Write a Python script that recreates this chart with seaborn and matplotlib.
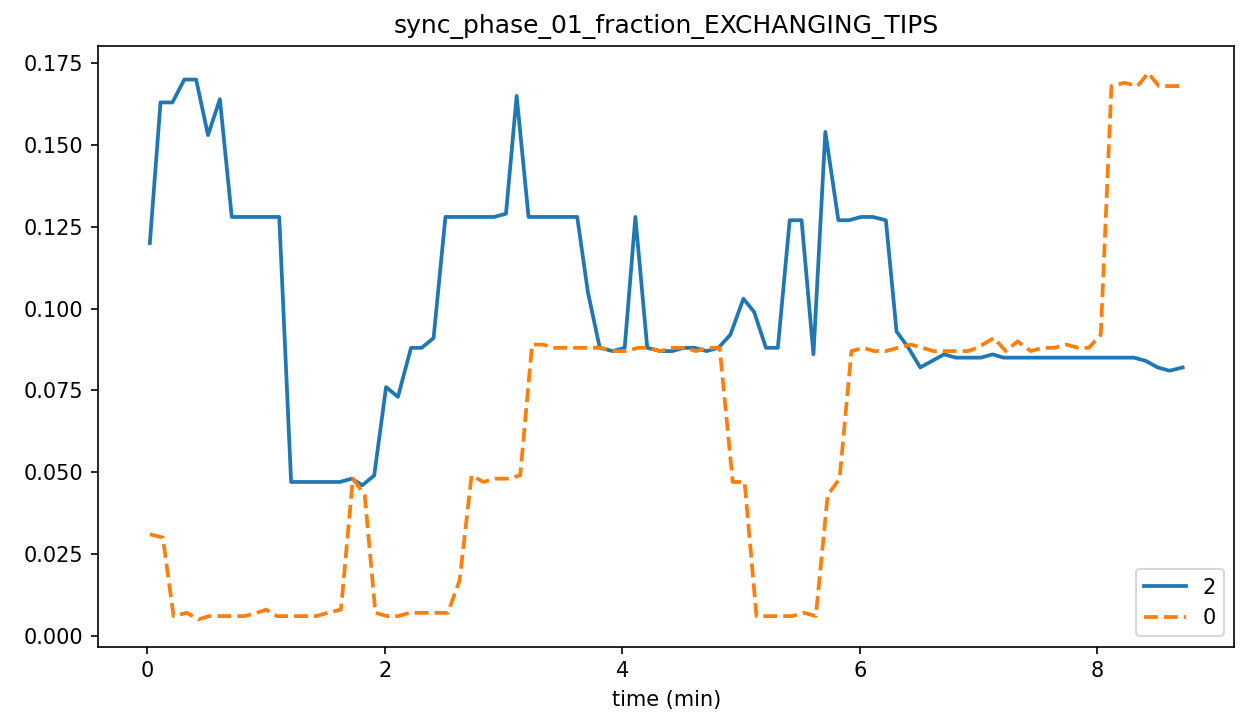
import numpy as np
import pandas as pd
import matplotlib
matplotlib.use("Agg")
import matplotlib.pyplot as plt
import seaborn as sns

# group "2" (solid blue)
time_2 = [0.02, 0.11, 0.21, 0.31, 0.41, 0.51, 0.61, 0.71, 0.81, 0.91, 1.01, 1.11,
          1.21, 1.31, 1.41, 1.51, 1.62, 1.72, 1.81, 1.91, 2.01, 2.11, 2.22, 2.31,
          2.41, 2.51, 2.61, 2.71, 2.81, 2.92, 3.02, 3.11, 3.21, 3.31, 3.41, 3.51,
          3.62, 3.71, 3.81, 3.92, 4.02, 4.11, 4.21, 4.32, 4.42, 4.52, 4.61, 4.71,
          4.81, 4.91, 5.02, 5.11, 5.21, 5.31, 5.41, 5.51, 5.61, 5.71, 5.82, 5.91,
          6.01, 6.11, 6.22, 6.31, 6.41, 6.51, 6.61, 6.71, 6.81, 6.91, 7.02, 7.12,
          7.21, 7.31, 7.41, 7.51, 7.61, 7.71, 7.81, 7.91, 8.01, 8.11, 8.21, 8.31,
          8.41, 8.51, 8.61, 8.72]
frac_2 = [0.120, 0.163, 0.163, 0.170, 0.170, 0.153, 0.164, 0.128, 0.128, 0.128, 0.128, 0.128,
          0.047, 0.047, 0.047, 0.047, 0.047, 0.048, 0.046, 0.049, 0.076, 0.073, 0.088, 0.088,
          0.091, 0.128, 0.128, 0.128, 0.128, 0.128, 0.129, 0.165, 0.128, 0.128, 0.128, 0.128,
          0.128, 0.105, 0.088, 0.087, 0.088, 0.128, 0.088, 0.087, 0.087, 0.088, 0.088, 0.087,
          0.088, 0.092, 0.103, 0.099, 0.088, 0.088, 0.127, 0.127, 0.086, 0.154, 0.127, 0.127,
          0.128, 0.128, 0.127, 0.093, 0.088, 0.082, 0.084, 0.086, 0.085, 0.085, 0.085, 0.086,
          0.085, 0.085, 0.085, 0.085, 0.085, 0.085, 0.085, 0.085, 0.085, 0.085, 0.085, 0.085,
          0.084, 0.082, 0.081, 0.082]

# group "0" (dashed orange)
time_0 = [0.02, 0.13, 0.22, 0.33, 0.43, 0.52, 0.62, 0.72, 0.82, 0.92, 1.00, 1.09,
          1.22, 1.32, 1.42, 1.52, 1.63, 1.73, 1.83, 1.92, 2.02, 2.11, 2.21, 2.32,
          2.42, 2.53, 2.63, 2.73, 2.83, 2.93, 3.03, 3.14, 3.24, 3.33, 3.43, 3.53,
          3.63, 3.73, 3.82, 3.94, 4.04, 4.13, 4.22, 4.32, 4.42, 4.52, 4.62, 4.72,
          4.82, 4.93, 5.03, 5.13, 5.23, 5.33, 5.43, 5.53, 5.63, 5.73, 5.83, 5.93,
          6.03, 6.12, 6.22, 6.32, 6.43, 6.53, 6.62, 6.72, 6.82, 6.91, 6.99, 7.13,
          7.23, 7.33, 7.44, 7.54, 7.64, 7.74, 7.84, 7.93, 8.03, 8.12, 8.23, 8.34,
          8.43, 8.52, 8.62, 8.72]
frac_0 = [0.031, 0.030, 0.006, 0.007, 0.005, 0.006, 0.006, 0.006, 0.006, 0.007, 0.008, 0.006,
          0.006, 0.006, 0.006, 0.007, 0.008, 0.048, 0.043, 0.007, 0.006, 0.006, 0.007, 0.007,
          0.007, 0.007, 0.017, 0.049, 0.047, 0.048, 0.048, 0.049, 0.089, 0.089, 0.088, 0.088,
          0.088, 0.088, 0.088, 0.087, 0.087, 0.088, 0.088, 0.087, 0.088, 0.088, 0.087, 0.088,
          0.088, 0.047, 0.047, 0.006, 0.006, 0.006, 0.006, 0.007, 0.006, 0.043, 0.048, 0.087,
          0.088, 0.087, 0.087, 0.088, 0.089, 0.088, 0.087, 0.087, 0.087, 0.087, 0.088, 0.091,
          0.087, 0.090, 0.087, 0.088, 0.088, 0.089, 0.088, 0.088, 0.092, 0.168, 0.169, 0.168,
          0.172, 0.168, 0.168, 0.168]

fig, ax = plt.subplots(figsize=(1243 / 150, 725 / 150), dpi=150)

sns.lineplot(x=time_2, y=frac_2, ax=ax, color="#1f77b4", linewidth=1.8, label="2")
sns.lineplot(x=time_0, y=frac_0, ax=ax, color="#ff7f0e", linewidth=1.8,
             linestyle="--", label="0")

ax.set_title("sync_phase_01_fraction_EXCHANGING_TIPS")
ax.set_xlabel("time (min)")
ax.set_ylabel("")
ax.legend(loc="lower right")

fig.subplots_adjust(left=0.079, right=0.993, top=0.937, bottom=0.108)
fig.savefig("out.png", dpi=150)
plt.close(fig)
